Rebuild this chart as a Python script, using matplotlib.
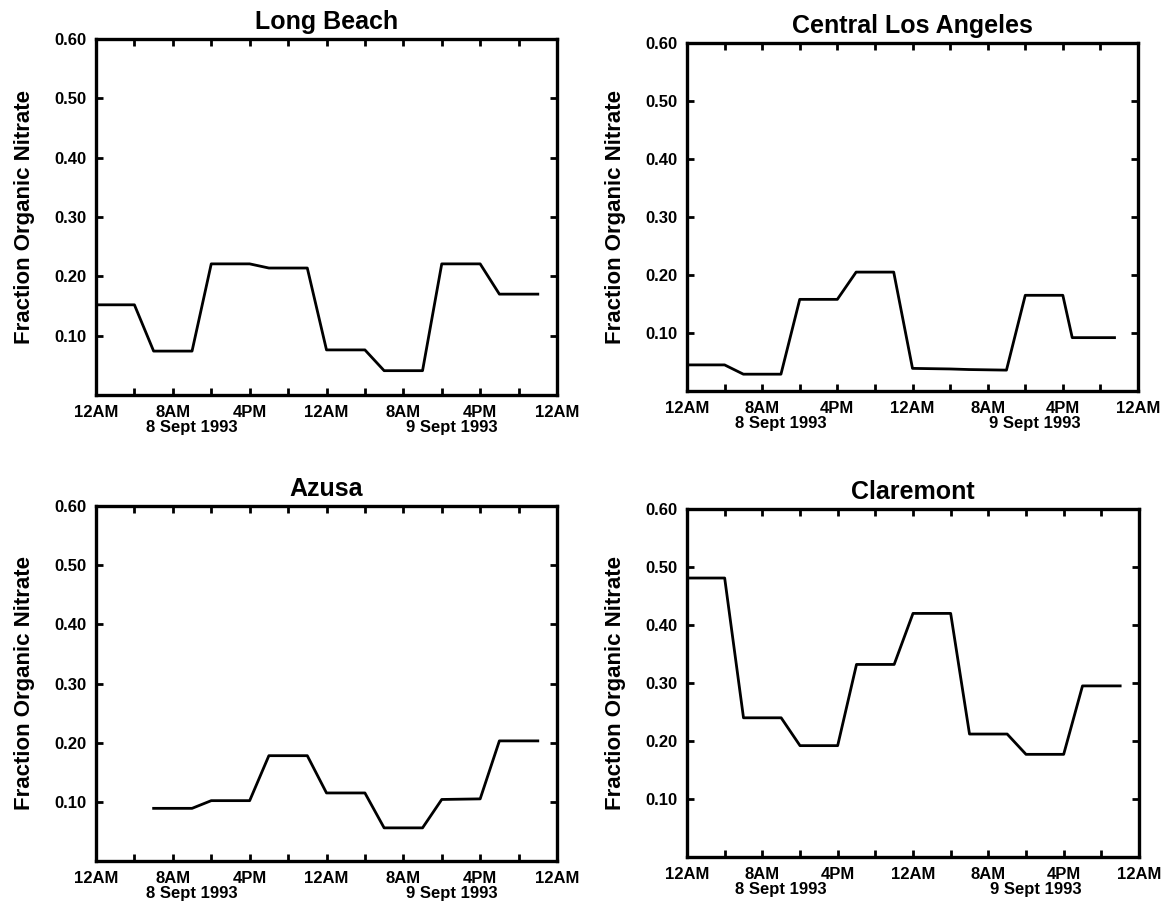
import matplotlib
matplotlib.use("Agg")
import matplotlib.pyplot as plt

plt.rcParams['font.family'] = ['Liberation Sans', 'DejaVu Sans']
plt.rcParams['font.weight'] = 'bold'

# hours since 12AM 8 Sept 1993, fraction organic nitrate
lb_hours = [0, 4, 6, 10, 12, 16, 18, 22, 24, 28, 30, 34, 36, 40, 42, 46]
lb_frac = [0.152, 0.152, 0.074, 0.074, 0.221, 0.221, 0.214, 0.214,
           0.076, 0.076, 0.041, 0.041, 0.221, 0.221, 0.170, 0.170]

cla_hours = [0, 4, 6, 10, 12, 16, 18, 22, 24, 28, 30, 34, 36, 40, 41, 45.5]
cla_frac = [0.045, 0.045, 0.029, 0.029, 0.158, 0.158, 0.205, 0.205,
            0.039, 0.038, 0.037, 0.036, 0.165, 0.165, 0.092, 0.092]

az_hours = [6, 10, 12, 16, 18, 22, 24, 28, 30, 34, 36, 40, 42, 46]
az_frac = [0.089, 0.089, 0.102, 0.102, 0.178, 0.178, 0.115, 0.115,
           0.056, 0.056, 0.104, 0.105, 0.203, 0.203]

cl_hours = [0, 4, 6, 10, 12, 16, 18, 22, 24, 28, 30, 34, 36, 40, 42, 46]
cl_frac = [0.481, 0.481, 0.240, 0.240, 0.192, 0.192, 0.332, 0.332,
           0.420, 0.420, 0.212, 0.212, 0.177, 0.177, 0.295, 0.295]

sites = ["Long Beach", "Central Los Angeles", "Azusa", "Claremont"]
series = [(lb_hours, lb_frac), (cla_hours, cla_frac),
          (az_hours, az_frac), (cl_hours, cl_frac)]

x_ticks = list(range(0, 49, 4))
x_labels = ["12AM", "", "8AM", "", "4PM", "", "12AM", "", "8AM", "", "4PM", "", "12AM"]
y_ticks = [0.1, 0.2, 0.3, 0.4, 0.5, 0.6]
y_labels = ["0.10", "0.20", "0.30", "0.40", "0.50", "0.60"]
dates = [(10, "8 Sept 1993"), (37, "9 Sept 1993")]

# axes boxes in pixels: left, right, top, bottom
W, H = 1167, 908
boxes = [(96, 557, 39, 395), (687, 1138, 43, 391),
         (96, 557, 506, 861), (687, 1139, 509, 857)]

fig = plt.figure(figsize=(W / 100, H / 100), dpi=100)

for site, (hrs, frac), (l, r, t, b) in zip(sites, series, boxes):
    ax = fig.add_axes([l / W, (H - b) / H, (r - l) / W, (b - t) / H])
    ax.plot(hrs, frac, color='black', linewidth=2.0)
    ax.set_xlim(0, 48)
    ax.set_ylim(0, 0.6)
    ax.set_xticks(x_ticks)
    ax.set_xticklabels(x_labels)
    ax.set_yticks(y_ticks)
    ax.set_yticklabels(y_labels)
    ax.tick_params(direction='in', length=5, width=2, top=True, right=True,
                   labelsize=12, pad=7)
    for lab in ax.get_xticklabels() + ax.get_yticklabels():
        lab.set_fontweight('bold')
    for sp in ax.spines.values():
        sp.set_linewidth(2.4)
    ax.set_title(site, fontsize=18, fontweight='bold', pad=7)
    ax.set_ylabel("Fraction Organic Nitrate", fontsize=16, fontweight='bold',
                  labelpad=14)
    for hx, txt in dates:
        ax.annotate(txt, xy=(hx, 0), xycoords=('data', 'axes fraction'),
                    xytext=(0, -18), textcoords='offset points',
                    ha='center', va='top', fontsize=12, fontweight='bold')

fig.savefig("out.png", dpi=100)
